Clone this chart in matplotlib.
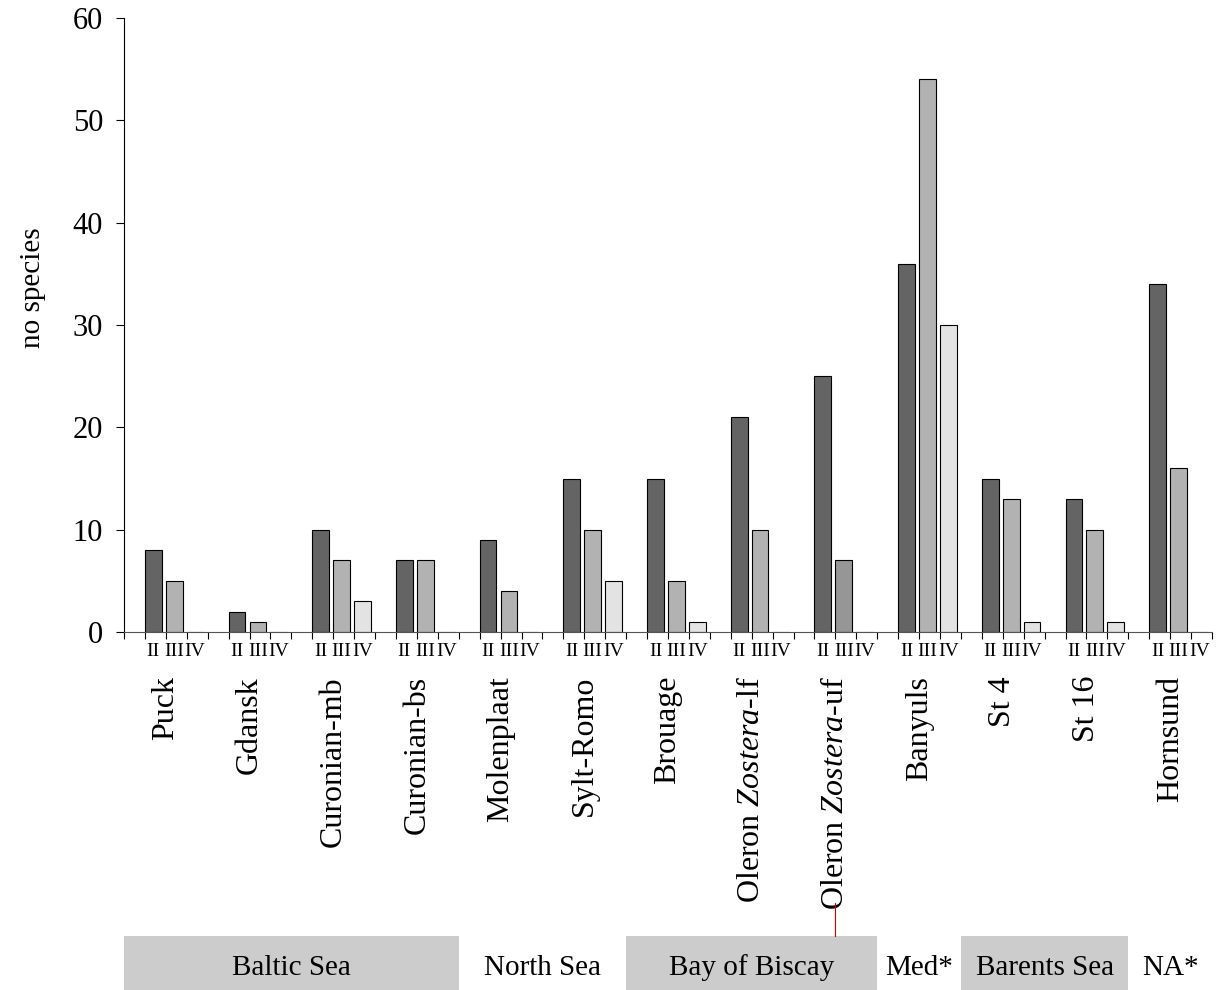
import numpy as np
import matplotlib.pyplot as plt
from matplotlib import transforms
from matplotlib.patches import Rectangle
from matplotlib.lines import Line2D

plt.rcParams['font.family'] = ['Liberation Serif', 'DejaVu Serif']
plt.rcParams['mathtext.fontset'] = 'custom'
plt.rcParams['mathtext.rm'] = 'Liberation Serif'
plt.rcParams['mathtext.it'] = 'Liberation Serif:italic'

# stanowiska i liczba gatunkow w klasach II, III, IV
sites = ["Puck", "Gdansk", "Curonian-mb", "Curonian-bs", "Molenplaat",
         "Sylt-Romo", "Brouage", r"Oleron $Zostera$-lf", r"Oleron $Zostera$-uf",
         "Banyuls", "St 4", "St 16", "Hornsund"]
cls_II = [8, 2, 10, 7, 9, 15, 15, 21, 25, 36, 15, 13, 34]
cls_III = [5, 1, 7, 7, 4, 10, 5, 10, 7, 54, 13, 10, 16]
cls_IV = [0, 0, 3, 0, 0, 5, 1, 0, 0, 30, 1, 1, 0]
class_names = ["II", "III", "IV"]

# akweny (liczba stanowisk w kazdym) i czy pole jest zacienione
regions = ["Baltic Sea", "North Sea", "Bay of Biscay", "Med*", "Barents Sea", "NA*"]
region_counts = [4, 2, 3, 1, 2, 1]
region_shaded = [True, False, True, False, True, False]

col_II = "#646464"
col_III = ["#b2b2b2"] * len(sites)
col_III[8] = "#969696"
col_IV = "#e3e3e3"

W, H = 1222, 990
fig = plt.figure(figsize=(W / 100, H / 100), dpi=100)
ax = fig.add_axes([124 / W, 1 - 632 / H, 1088 / W, 614 / H])

n = len(sites)
slots = 4 * n
base = 4 * np.arange(n)
for k, (vals, col) in enumerate([(cls_II, col_II), (cls_III, col_III), (cls_IV, col_IV)]):
    ax.bar(base + 1 + k, vals, width=0.8, align='edge', color=col,
           edgecolor='black', linewidth=0.8, zorder=2)

ax.set_xlim(0, slots)
ax.set_ylim(0, 60)
ax.set_yticks(np.arange(0, 61, 10))
ax.tick_params(axis='y', labelsize=22, length=6, width=0.8, pad=9, direction='out')
ax.set_xticks(np.arange(0, slots + 1))
ax.set_xticklabels([])
ax.tick_params(axis='x', length=5, width=0.8, direction='out')
ax.spines['top'].set_visible(False)
ax.spines['right'].set_visible(False)
ax.spines['bottom'].set_color('#555555')
ax.set_ylabel("no species", fontsize=21)
ax.yaxis.set_label_coords(-0.072, 0.56)

tr = transforms.blended_transform_factory(ax.transData, fig.transFigure)

# opisy klas pod slupkami
for g in range(n):
    for k, name in enumerate(class_names):
        ax.text(4 * g + 1 + k + 0.4, 1 - 652 / H, name, transform=tr,
                ha='center', va='center', fontsize=14)

# nazwy stanowisk
for g, s in enumerate(sites):
    ax.text(4 * g + 2, 1 - 676 / H, s, transform=tr, rotation=90,
            ha='center', va='top', fontsize=23)

# pasek z akwenami
start = 0
for name, cnt, shaded in zip(regions, region_counts, region_shaded):
    x0 = 4 * start
    x1 = 4 * (start + cnt)
    if shaded:
        fig.add_artist(Rectangle((x0, 0), x1 - x0, 1 - 936 / H, transform=tr,
                                 facecolor='#cccccc', edgecolor='none'))
    fig.text((x0 + x1) / 2, 1 - 968 / H, name, transform=tr, fontsize=21,
             ha='center', va='center')
    start += cnt

fig.add_artist(Line2D([4 * 8 + 2, 4 * 8 + 2], [1 - 903 / H, 1 - 936 / H],
                      transform=tr, color='#cc0000', linewidth=0.8))

fig.savefig("out.png", dpi=100)
